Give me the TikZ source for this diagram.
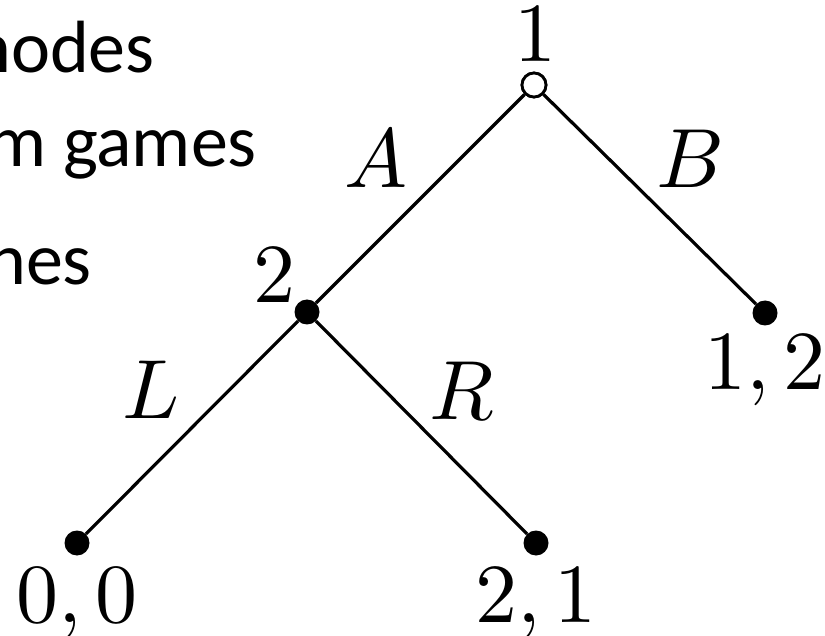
\documentclass[tikz,border=0pt]{standalone}
\usepackage{fontspec}
\newfontfamily\slidefont{Carlito}
\newcommand{\bigmath}[1]{\scalebox{8.4}{$#1$}}
\begin{document}
\begin{tikzpicture}[x=1pt,y=-1pt,
  dotnode/.style={circle,fill=black,inner sep=0pt,minimum size=25pt},
  opennode/.style={circle,draw=black,fill=white,line width=2.8pt,inner sep=0pt,minimum size=24pt},
  edge/.style={line width=3.2pt},
  lbl/.style={anchor=base,inner sep=0pt},
  slide/.style={anchor=base east,inner sep=0pt,font=\slidefont\fontsize{74}{80}\selectfont}]
\useasboundingbox (0,0) rectangle (825,636);

% slide text (cut at the left)
\node[slide] (t1) at (155,73) {nodes};
\node[slide] (t2) at (257,167) {m games};
\node[slide] (t3) at (92,285) {nes};

% tree nodes
\node[opennode] (root) at (534,85) {};
\node[dotnode] (n2) at (307,312) {};
\node[dotnode] (l12) at (765,313) {};
\node[dotnode] (l00) at (77,543) {};
\node[dotnode] (l21) at (536,543) {};

% edges
\draw[edge] (root) -- (n2);
\draw[edge] (root) -- (l12);
\draw[edge] (n2) -- (l00);
\draw[edge] (n2) -- (l21);
\node[opennode] at (root) {};

% labels
\node[lbl] (p1) at (535,62) {\bigmath{1}};
\node[lbl] (p2) at (274,303) {\bigmath{2}};
\node[lbl] (ea) at (376,188) {\bigmath{A}};
\node[lbl] (eb) at (690,188) {\bigmath{B}};
\node[lbl] (el) at (151,418) {\bigmath{L}};
\node[lbl] (er) at (462,419) {\bigmath{R}};
\node[lbl] (o00) at (77,622) {\bigmath{0,0}};
\node[lbl] (o21) at (536,622) {\bigmath{2,1}};
\node[lbl] (o12) at (765,390) {\bigmath{1,2}};
\end{tikzpicture}
\end{document}
